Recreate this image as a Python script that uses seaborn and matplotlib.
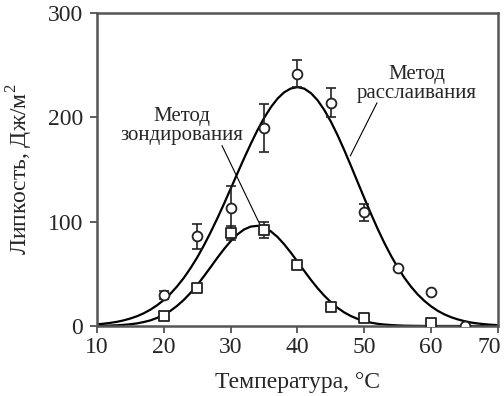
import matplotlib
matplotlib.use("Agg")
import matplotlib.pyplot as plt
import matplotlib.transforms as mtransforms
import seaborn as sns
import pandas as pd
import numpy as np

# ---------------- data ----------------
# measured points, peeling method (circles)
peel_x = [20, 25, 30, 35, 40, 45, 50, 55, 60, 65]
peel_y = [30, 86, 113, 190, 242, 214, 109, 56, 33, 0]
peel_err = [4, 12, 21, 23, 13, 14, 8, 0, 0, 0]

# measured points, probe method (squares)
probe_x = [20, 25, 30, 35, 40, 45, 50, 60]
probe_y = [10, 36, 89, 92, 58, 18, 8, 3]
probe_err = [0, 0, 7, 8, 0, 0, 0, 0]

# fitted curves (1 °C steps)
curve_x = list(range(10, 71))
peel_curve = [1.6, 2.2, 3.0, 4.0, 5.4, 7.2, 9.4, 12.2, 15.7, 19.9,
              25.0, 31.0, 38.1, 46.2, 55.5, 65.8, 77.3, 89.8, 103.1, 117.1,
              131.6, 146.2, 160.6, 174.5, 187.6, 199.4, 209.6, 217.9, 224.0, 227.7,
              229.0, 227.6, 223.3, 216.5, 207.2, 195.9, 182.9, 168.6, 153.5, 138.0,
              122.6, 107.5, 93.1, 79.6, 67.3, 56.1, 46.2, 37.6, 30.2, 24.0,
              18.8, 14.5, 11.1, 8.4, 6.3, 4.6, 3.3, 2.4, 1.7, 1.2, 0.8]
probe_curve = [0.1, 0.25, 0.4, 0.7, 1.1, 1.7, 2.5, 3.8, 5.4, 7.8,
               10.8, 14.6, 19.4, 25.1, 31.8, 39.3, 47.7, 56.4, 65.3, 73.7,
               81.3, 87.7, 92.5, 95.3, 96.0, 94.4, 90.8, 85.4, 78.4, 70.4,
               61.7, 52.9, 44.3, 36.3, 29.1, 22.8, 17.4, 13.0, 9.5, 6.8,
               4.7, 3.2, 2.1, 1.4, 0.9, 0.55, 0.3, 0.2, 0.1, 0.05,
               0.0, 0.0, 0.0, 0.0, 0.0, 0.0, 0.0, 0.0, 0.0, 0.0, 0.0]

x_ticks = [10, 20, 30, 40, 50, 60, 70]
y_ticks = [0, 100, 200, 300]
x_label = "Температура, °C"
y_label = "Липкость, Дж/м$^2$"
label_probe = "Метод\nзондирования"
label_peel = "Метод\nрасслаивания"

# ---------------- plotting ----------------
sns.set_theme(style="white")
plt.rcParams["font.family"] = ["Liberation Serif", "DejaVu Serif"]
plt.rcParams["mathtext.fontset"] = "custom"
plt.rcParams["mathtext.rm"] = "Liberation Serif"

fig = plt.figure(figsize=(5.04, 3.96), dpi=100)
ax = fig.add_axes([0.1925, 0.1768, 0.7955, 0.7902])

curves = pd.DataFrame({"x": curve_x * 2,
                       "y": peel_curve + probe_curve,
                       "m": ["peel"] * len(curve_x) + ["probe"] * len(curve_x)})
sns.lineplot(data=curves, x="x", y="y", units="m", estimator=None,
             color="black", lw=1.6, ax=ax, zorder=2)

ax.errorbar(peel_x, peel_y, yerr=peel_err, fmt="none", ecolor="#222222",
            elinewidth=1.2, capsize=3.5, capthick=1.2, zorder=3)
ax.errorbar(probe_x, probe_y, yerr=probe_err, fmt="none", ecolor="#222222",
            elinewidth=1.2, capsize=3.5, capthick=1.2, zorder=3)

sns.scatterplot(x=peel_x, y=peel_y, marker="o", s=50, facecolor="white",
                edgecolor="#222222", linewidth=1.3, ax=ax, zorder=4)
sns.scatterplot(x=probe_x, y=probe_y, marker="s", s=50, facecolor="white",
                edgecolor="#222222", linewidth=1.3, ax=ax, zorder=4)

ax.set_xlim(10, 70)
ax.set_ylim(0, 300)
ax.set_xticks(x_ticks)
ax.set_yticks(y_ticks)
ax.set_xlabel(x_label, fontsize=17, labelpad=10)
ax.set_ylabel(y_label, fontsize=17, labelpad=9)
ax.tick_params(axis="both", labelsize=17, length=5, width=1.2,
               color="#444444", direction="out", bottom=True, left=True,
               top=False, right=False)
ax.tick_params(axis="x", pad=3)
ax.tick_params(axis="y", pad=5)
for s in ax.spines.values():
    s.set_color("#555555")
    s.set_linewidth(1.8)
    s.set_visible(True)

# keep the last x tick label inside the figure
last = ax.get_xticklabels()[-1]
last.set_transform(last.get_transform() +
                   mtransforms.ScaledTranslation(-6 / 72, 0, fig.dpi_scale_trans))

# annotations
ax.text(22.7, 192, label_probe, ha="center", va="center", fontsize=15,
        linespacing=1.0)
ax.plot([28.7, 34.4], [173, 97], color="black", lw=0.8, zorder=2)
ax.text(57.9, 232, label_peel, ha="center", va="center", fontsize=15,
        linespacing=1.0)
ax.plot([51.9, 47.9], [214, 163], color="black", lw=0.8, zorder=2)

fig.savefig("out.png", dpi=100)
